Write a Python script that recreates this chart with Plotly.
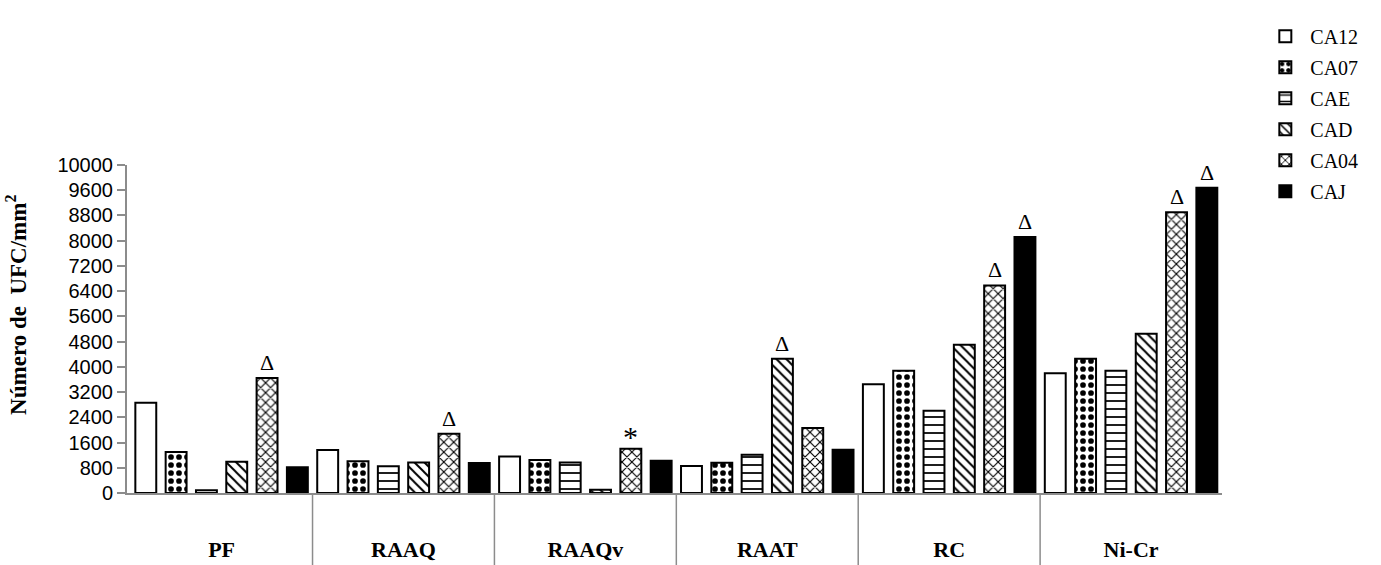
import plotly.graph_objects as go

# Materials (x categories) and culture groups (series)
materials = ["PF", "RAAQ", "RAAQv", "RAAT", "RC", "Ni-Cr"]

ca12 = [2860, 1360, 1160, 860, 3450, 3800]
ca07 = [1300, 1010, 1050, 960, 3880, 4260]
cae = [90, 850, 970, 1210, 2610, 3880]
cad = [990, 970, 100, 4260, 4700, 5050]
ca04 = [3650, 1880, 1400, 2060, 6580, 8900]
caj = [820, 950, 1020, 1370, 8120, 9680]

series_names = ["CA12", "CA07", "CAE", "CAD", "CA04", "CAJ"]
series_values = [ca12, ca07, cae, cad, ca04, caj]

# Significance marks: (material, series, symbol)
marks = [
    ("PF", "CA04", "Δ"),
    ("RAAQ", "CA04", "Δ"),
    ("RAAQv", "CA04", "*"),
    ("RAAT", "CAD", "Δ"),
    ("RC", "CA04", "Δ"),
    ("RC", "CAJ", "Δ"),
    ("Ni-Cr", "CA04", "Δ"),
    ("Ni-Cr", "CAJ", "Δ"),
]

# y ticks every 800; the top tick is printed as 10000
tick_vals = [0, 800, 1600, 2400, 3200, 4000, 4800, 5600, 6400, 7200, 8000, 8800, 9600, 10400]
tick_text = ["0", "800", "1600", "2400", "3200", "4000", "4800", "5600", "6400",
             "7200", "8000", "8800", "9600", "10000"]

styles = {
    "CA12": dict(color="white", pattern=dict(shape="")),
    "CA07": dict(color="white", pattern=dict(shape=".", fgcolor="black", bgcolor="white",
                                             size=8, solidity=0.4, fillmode="replace")),
    "CAE": dict(color="white", pattern=dict(shape="-", fgcolor="black", bgcolor="white",
                                            size=8, solidity=0.22, fillmode="replace")),
    "CAD": dict(color="white", pattern=dict(shape="\\", fgcolor="black", bgcolor="white",
                                            size=7, solidity=0.28, fillmode="replace")),
    "CA04": dict(color="white", pattern=dict(shape="x", fgcolor="black", bgcolor="white",
                                             size=7, solidity=0.3, fillmode="replace")),
    "CAJ": dict(color="black", pattern=dict(shape="")),
}

fig = go.Figure()
for name, vals in zip(series_names, series_values):
    st = styles[name]
    fig.add_trace(go.Bar(
        name=name, x=materials, y=vals, legendgroup=name,
        marker=dict(color=st["color"], pattern=st["pattern"],
                    line=dict(color="black", width=2)),
    ))

n = len(series_names)
for mat, ser, sym in marks:
    ci = materials.index(mat)
    si = series_names.index(ser)
    val = series_values[si][ci]
    fig.add_annotation(
        x=ci + (si - (n - 1) / 2) / n, y=val, xref="x", yref="y",
        text=sym, showarrow=False, yanchor="bottom", yshift=1 if sym == "Δ" else -6,
        font=dict(family="Liberation Serif", size=22 if sym == "Δ" else 30, color="black"),
    )

# Group separators below the category axis
for k in range(1, len(materials)):
    fig.add_shape(type="line", xref="x", yref="paper", x0=k - 0.5, x1=k - 0.5,
                  y0=0, y1=-0.3, line=dict(color="#8c8c8c", width=1.5))

fig.add_annotation(
    xref="paper", yref="paper", x=-0.116, y=0.575, textangle=-90, showarrow=False,
    text="<b>Número de  UFC/mm<sup>2</sup></b>",
    font=dict(family="Liberation Serif", size=23, color="black"),
)

fig.update_layout(
    width=1381, height=565,
    margin=dict(l=127, r=159, t=165, b=71.5),
    plot_bgcolor="white", paper_bgcolor="white",
    barmode="group", bargap=0.0, bargroupgap=0.31,
    showlegend=True,
    legend=dict(x=1.035, y=1.452, xanchor="left", yanchor="top",
                font=dict(family="Liberation Serif", size=20, color="black"),
                tracegroupgap=2, itemwidth=40, bgcolor="rgba(0,0,0,0)"),
    xaxis=dict(
        range=[-0.52, 5.5], showline=True, linecolor="#8c8c8c", linewidth=2,
        showgrid=False, zeroline=False, ticks="", automargin=False,
        tickfont=dict(family="Liberation Serif", size=22, color="black", weight="bold"),
        ticklabelstandoff=36,
    ),
    yaxis=dict(
        range=[0, 10400], tickvals=tick_vals, ticktext=tick_text, automargin=False,
        showline=True, linecolor="#8c8c8c", linewidth=2,
        ticks="outside", ticklen=8, tickcolor="#8c8c8c", tickwidth=1.5,
        showgrid=False, zeroline=False,
        tickfont=dict(family="Liberation Sans", size=20, color="black"),
    ),
)

fig.write_html("out.html")
